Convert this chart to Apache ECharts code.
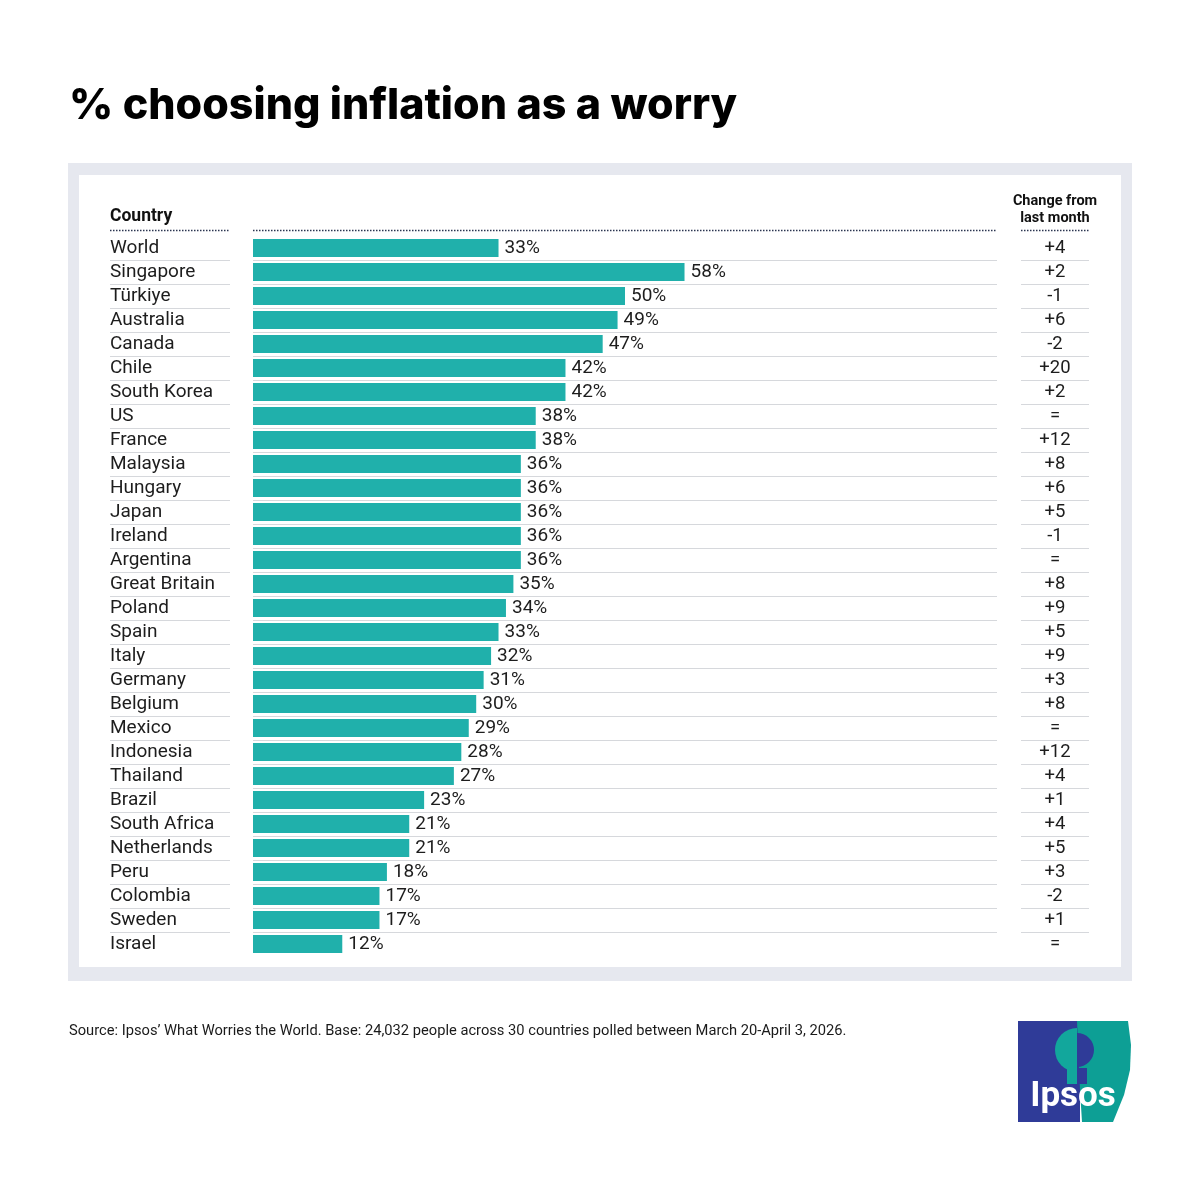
<!DOCTYPE html>
<html>
<head>
<meta charset="utf-8">
<script src="https://cdn.jsdelivr.net/npm/echarts@6/dist/echarts.min.js"></script>
<style>
html,body{margin:0;padding:0;background:#fff;}
#chart{width:1200px;height:1200px;}
</style>
</head>
<body>
<div id="chart"></div>
<script>
const countries = ["World","Singapore","Türkiye","Australia","Canada","Chile","South Korea","US","France","Malaysia","Hungary","Japan","Ireland","Argentina","Great Britain","Poland","Spain","Italy","Germany","Belgium","Mexico","Indonesia","Thailand","Brazil","South Africa","Netherlands","Peru","Colombia","Sweden","Israel"];
const values = [33,58,50,49,47,42,42,38,38,36,36,36,36,36,35,34,33,32,31,30,29,28,27,23,21,21,18,17,17,12];
const changes = ["+4","+2","-1","+6","-2","+20","+2","=","+12","+8","+6","+5","-1","=","+8","+9","+5","+9","+3","+8","=","+12","+4","+1","+4","+5","+3","-2","+1","="];

const titleText = "% choosing inflation as a worry";
const sourceText = "Source: Ipsos’ What Worries the World. Base: 24,032 people across 30 countries polled between March 20-April 3, 2026.";

const FONT = "Roboto, 'Noto Sans', sans-serif";
const TXT = "#1d1d1d";
const BAR = "#20b0ab";
const SEP = "#d6d8dc";
const DOT = "#2b3550";

const chart = echarts.init(document.getElementById('chart'), null, {renderer:'canvas'});

function dotted(x1, x2, y){
  return {type:'line', shape:{x1:x1,y1:y,x2:x2,y2:y}, style:{stroke:DOT, lineWidth:1.5, lineDash:[1.5,1.5]}, z:10};
}

const option = {
  backgroundColor:'#ffffff',
  animation:false,
  title:{
    text:titleText, left:64, top:80,
    textStyle:{fontFamily:"Inter, Roboto, sans-serif", fontSize:43, fontWeight:800, color:'#000'}
  },
  grid:{left:253, right:203, top:236, height:720, containLabel:false},
  xAxis:{type:'value', min:0, max:100, show:false},
  yAxis:[
    {type:'category', data:countries, inverse:true,
     axisLine:{show:false}, axisTick:{show:false}, splitLine:{show:false},
     axisLabel:{interval:0, align:'left', margin:143, padding:[3,0,0,0], fontFamily:FONT, fontSize:19, color:TXT}},
    {type:'category', data:changes, inverse:true, position:'right',
     axisLine:{show:false}, axisTick:{show:false}, splitLine:{show:false},
     axisLabel:{interval:0, align:'center', margin:58, padding:[3,0,0,0], fontFamily:FONT, fontSize:18.5, color:TXT}}
  ],
  series:[
    {type:'custom', yAxisIndex:0, z:1, silent:true,
     data:countries.map((c,i)=>[0,i]),
     renderItem:function(params, api){
       const idx = params.dataIndex;
       if (idx === countries.length-1) return null;
       const cs = params.coordSys;
       const y = Math.round(api.coord([0, api.value(1)])[1] + api.size([0,1])[1]/2) + 0.5;
       const st = {stroke:SEP, lineWidth:1};
       return {type:'group', children:[
         {type:'line', shape:{x1:110,y1:y,x2:230,y2:y}, style:st},
         {type:'line', shape:{x1:cs.x,y1:y,x2:cs.x+cs.width,y2:y}, style:st},
         {type:'line', shape:{x1:1021,y1:y,x2:1089,y2:y}, style:st}
       ]};
     }},
    {type:'bar', data:values, barWidth:18, z:3,
     itemStyle:{color:BAR},
     label:{show:true, position:'right', distance:6, padding:[3,0,0,0], formatter:'{c}%', fontFamily:FONT, fontSize:19, color:TXT}}
  ],
  graphic:[
    {type:'rect', shape:{x:68,y:163,width:1064,height:818}, style:{fill:'#e6e8ef'}, z:-10},
    {type:'rect', shape:{x:79,y:175,width:1042,height:792}, style:{fill:'#ffffff'}, z:-9},
    {type:'text', x:110, y:217, style:{text:'Country', fontFamily:FONT, fontSize:17.5, fontWeight:'bold', fill:'#111', textVerticalAlign:'middle'}, z:10},
    {type:'text', x:1055, y:201, style:{text:'Change from', fontFamily:FONT, fontSize:14.5, fontWeight:'bold', fill:'#111', textAlign:'center', textVerticalAlign:'middle'}, z:10},
    {type:'text', x:1055, y:218, style:{text:'last month', fontFamily:FONT, fontSize:14.5, fontWeight:'bold', fill:'#111', textAlign:'center', textVerticalAlign:'middle'}, z:10},
    dotted(110,230,230.5), dotted(253,997,230.5), dotted(1021,1089,230.5),
    {type:'text', x:69, y:1031, style:{text:sourceText, fontFamily:FONT, fontSize:14.7, fill:'#1a1a1a', textVerticalAlign:'middle'}, z:10},
    // Ipsos logo
    {type:'group', z:20, children:[
      {type:'rect', shape:{x:1018,y:1021,width:62,height:101}, style:{fill:'#2f3b98'}},
      {type:'polygon', shape:{points:[[1077,1021],[1128,1021],[1131,1045],[1130,1070],[1124,1095],[1113,1122],[1082,1122],[1080,1090]]}, style:{fill:'#0d9f95'}},
      {type:'sector', shape:{cx:1077,cy:1050,r:22,r0:0,startAngle:Math.PI/2,endAngle:Math.PI*1.5}, style:{fill:'#12a79c'}},
      {type:'sector', shape:{cx:1077,cy:1050,r:17,r0:0,startAngle:-Math.PI/2,endAngle:Math.PI/2}, style:{fill:'#2f3b98'}},
      {type:'rect', shape:{x:1067,y:1068,width:10,height:16}, style:{fill:'#12a79c'}},
      {type:'rect', shape:{x:1077,y:1068,width:10,height:16}, style:{fill:'#2f3b98'}},
      {type:'text', x:1073, y:1097, style:{text:'Ipsos', fontFamily:"Roboto, sans-serif", fontSize:35, fontWeight:'bold', fill:'#ffffff', textAlign:'center', textVerticalAlign:'middle'}}
    ]}
  ]
};
chart.setOption(option);
</script>
</body>
</html>
